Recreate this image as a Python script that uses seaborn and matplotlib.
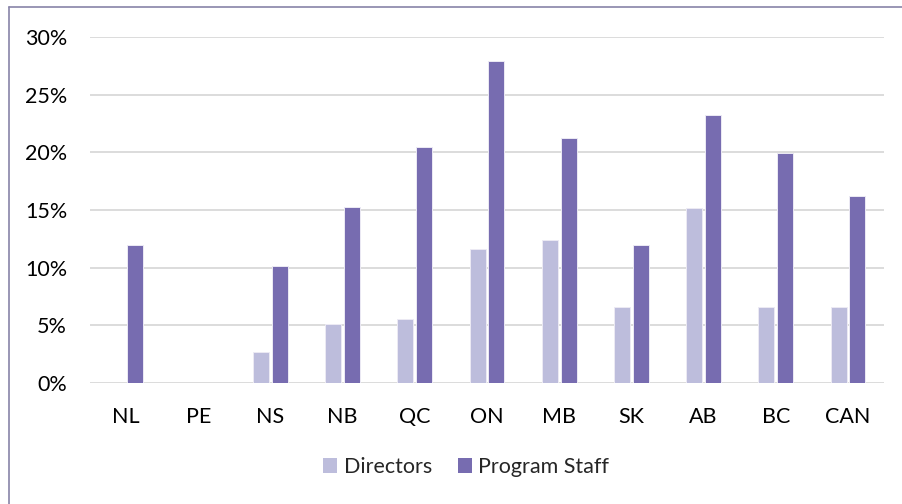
import matplotlib
matplotlib.use("Agg")
import matplotlib.pyplot as plt
import seaborn as sns
import pandas as pd
import numpy as np
from matplotlib.lines import Line2D
from matplotlib.patches import Patch
from matplotlib.ticker import FuncFormatter

categories = ["NL", "PE", "NS", "NB", "QC", "ON", "MB", "SK", "AB", "BC", "CAN"]
directors = [0.0, 0.0, 2.7, 5.1, 5.55, 11.65, 12.4, 6.55, 15.2, 6.6, 6.55]
program_staff = [12.0, 0.0, 10.15, 15.25, 20.45, 27.9, 21.2, 11.95, 23.2, 19.95, 16.2]
series_names = ["Directors", "Program Staff"]
colors = ["#BDBDDC", "#776CB0"]
y_ticks = [0, 5, 10, 15, 20, 25, 30]

df = pd.DataFrame({
    "Region": categories * 2,
    "Value": directors + program_staff,
    "Group": [series_names[0]] * len(categories) + [series_names[1]] * len(categories),
})

sns.set_theme(style="white")
plt.rcParams["font.family"] = ["Lato", "DejaVu Sans"]

fig = plt.figure(figsize=(9.02, 5.04), dpi=100)
ax = fig.add_axes([90 / 902, 121 / 504, 794 / 902, 346 / 504])

sns.barplot(data=df, x="Region", y="Value", hue="Group", order=categories,
            hue_order=series_names, palette=colors, saturation=1, width=0.52, gap=0.15,
            edgecolor="#ECEAF4", linewidth=0.7, ax=ax, legend=False, zorder=3)

ax.set_ylim(0, 30)
ax.set_xlim(-0.5, len(categories) - 0.5)
ax.set_yticks(y_ticks)
ax.yaxis.set_major_formatter(FuncFormatter(lambda v, p: f"{int(v)}%"))
ax.grid(axis="y", color="#D9D9D9", linewidth=1.3, zorder=0)
ax.grid(axis="x", visible=False)
for s in ax.spines.values():
    s.set_visible(False)
ax.tick_params(axis="y", length=0, pad=16.5, labelsize=15.5, labelcolor="#000000")
ax.tick_params(axis="x", length=0, pad=17.5, labelsize=15.5, labelcolor="#000000")
ax.set_xlabel("")
ax.set_ylabel("")

handles = [Patch(facecolor=c, edgecolor="none") for c in colors]
fig.legend(handles, series_names, loc="center", bbox_to_anchor=(466 / 902, 37 / 504),
           ncol=2, frameon=False, fontsize=15.5, handlelength=0.65, handleheight=0.65,
           handletextpad=0.3, columnspacing=1.2)

# figure border (left and top visible)
border_color = "#8884A8"
fig.add_artist(Line2D([8.5 / 902, 8.5 / 902], [0, 1 - 7 / 504], transform=fig.transFigure,
                      color=border_color, linewidth=1.2))
fig.add_artist(Line2D([8.5 / 902, 1], [1 - 7 / 504, 1 - 7 / 504], transform=fig.transFigure,
                      color=border_color, linewidth=1.2))

fig.savefig("out.png", dpi=100)
